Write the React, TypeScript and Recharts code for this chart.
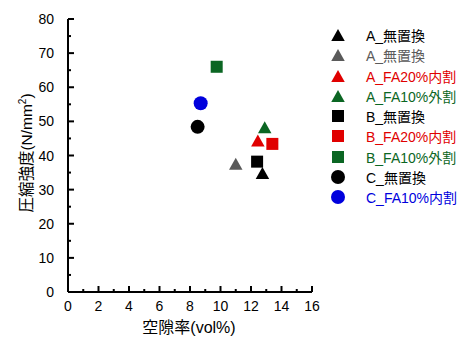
import { ScatterChart, Scatter, XAxis, YAxis } from "recharts";

const seriesNames = [
  "A_無置換",
  "A_無置換",
  "A_FA20%内割",
  "A_FA10%外割",
  "B_無置換",
  "B_FA20%内割",
  "B_FA10%外割",
  "C_無置換",
  "C_FA10%内割",
];
const voidRatio = [12.75, 11.0, 12.45, 12.9, 12.4, 13.4, 9.75, 8.5, 8.7];
const strength = [34.9, 37.6, 44.4, 48.3, 38.2, 43.4, 66.0, 48.4, 55.3];
const xTicks = [0, 1, 2, 3, 4, 5, 6, 7, 8, 9, 10, 11, 12, 13, 14, 15, 16];
const yTicks = [0, 5, 10, 15, 20, 25, 30, 35, 40, 45, 50, 55, 60, 65, 70, 75, 80];

const seriesColors = ["#000000", "#5a5a5a", "#e00000", "#0b6623", "#000000", "#e00000", "#0b6623", "#000000", "#0000dd"];
const seriesShapes = ["triangle", "triangle", "triangle", "triangle", "square", "square", "square", "circle", "circle"];

const FONT = "'Liberation Sans', Arial, 'Noto Sans CJK JP', sans-serif";

function Marker({ cx, cy, fill, kind }: any) {
  if (cx == null || cy == null) return null;
  if (kind === "square") return <rect x={cx - 6} y={cy - 6} width={12} height={12} fill={fill} />;
  if (kind === "circle") return <circle cx={cx} cy={cy} r={7} fill={fill} />;
  const s = 13.5, h = 12;
  return <polygon points={`${cx},${cy - h / 2} ${cx - s / 2},${cy + h / 2} ${cx + s / 2},${cy + h / 2}`} fill={fill} />;
}

const BottomTick = ({ x, y, payload }: any) => {
  const major = payload.value % 2 === 0;
  return (
    <g>
      <line x1={x} x2={x} y1={y} y2={y - (major ? 6 : 3)} stroke="#000" strokeWidth={2} />
      {major && (
        <text x={x} y={y + 19} textAnchor="middle" fontSize={14} fill="#000">{payload.value}</text>
      )}
    </g>
  );
};
const TopTick = ({ x, y, payload }: any) => {
  const major = payload.value % 2 === 0;
  return <line x1={x} x2={x} y1={y} y2={y + (major ? 6 : 3)} stroke="#000" strokeWidth={2} />;
};
const LeftTick = ({ x, y, payload }: any) => {
  const major = payload.value % 10 === 0;
  return (
    <g>
      <line x1={x} x2={x + (major ? 6 : 3)} y1={y} y2={y} stroke="#000" strokeWidth={2} />
      {major && (
        <text x={x - 14} y={y + 5} textAnchor="end" fontSize={14} fill="#000">{payload.value}</text>
      )}
    </g>
  );
};
const RightTick = ({ x, y, payload }: any) => {
  const major = payload.value % 10 === 0;
  return <line x1={x} x2={x - (major ? 6 : 3)} y1={y} y2={y} stroke="#000" strokeWidth={2} />;
};

const axisLine = { stroke: "#000", strokeWidth: 2 };

export default function App() {
  return (
    <div style={{ position: "absolute", left: 0, top: 0, width: 463, height: 339, background: "#fff", fontFamily: FONT }}>
      <ScatterChart width={463} height={339} margin={{ top: 19, right: 151, bottom: 0, left: 0 }}>
        <XAxis xAxisId="b" type="number" dataKey="x" domain={[0, 16]} ticks={xTicks} interval={0}
          height={47} tickSize={0} tickMargin={0} tickLine={false} axisLine={axisLine} tick={<BottomTick />} />
        <XAxis xAxisId="t" orientation="top" type="number" dataKey="x" domain={[0, 16]} ticks={xTicks} interval={0}
          height={0} tickSize={0} tickMargin={0} tickLine={false} axisLine={axisLine} tick={<TopTick />} />
        <YAxis yAxisId="l" type="number" dataKey="y" domain={[0, 80]} ticks={yTicks} interval={0}
          width={68} tickSize={0} tickMargin={0} tickLine={false} axisLine={axisLine} tick={<LeftTick />} />
        <YAxis yAxisId="r" orientation="right" type="number" dataKey="y" domain={[0, 80]} ticks={yTicks} interval={0}
          width={0} tickSize={0} tickMargin={0} tickLine={false} axisLine={axisLine} tick={<RightTick />} />
        {seriesNames.map((name, i) => (
          <Scatter
            key={i}
            name={name}
            xAxisId="b"
            yAxisId="l"
            data={[{ x: voidRatio[i], y: strength[i] }]}
            isAnimationActive={false}
            shape={(p: any) => <Marker cx={p.cx} cy={p.cy} fill={seriesColors[i]} kind={seriesShapes[i]} />}
          />
        ))}
        <text x={189} y={333} textAnchor="middle" fontSize={16} fill="#000">空隙率(vol%)</text>
        <text transform="translate(32,153) rotate(-90)" textAnchor="middle" fontSize={15.5} fill="#000">
          圧縮強度(N/mm<tspan dy={-6} fontSize={10}>2</tspan><tspan dy={6}>)</tspan>
        </text>
      </ScatterChart>
      <div style={{ position: "absolute", left: 330, top: 25, width: 133 }}>
        {seriesNames.map((name, i) => (
          <div key={i} style={{ height: 20.25, display: "flex", alignItems: "center" }}>
            <svg width={16} height={16} style={{ flex: "none" }}>
              <Marker cx={8} cy={8} fill={seriesColors[i]} kind={seriesShapes[i]} />
            </svg>
            <span style={{ marginLeft: 20, fontSize: 14, color: seriesColors[i], whiteSpace: "nowrap" }}>{name}</span>
          </div>
        ))}
      </div>
    </div>
  );
}
